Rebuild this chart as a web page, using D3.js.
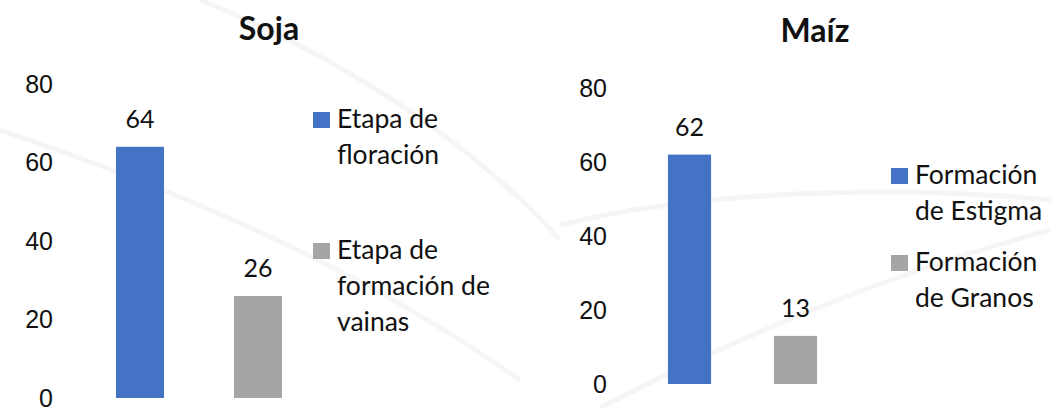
<!DOCTYPE html>
<html>
<head>
<meta charset="utf-8">
<script src="https://cdn.jsdelivr.net/npm/d3@7"></script>
<style>
  body { margin: 0; background: #fff; }
  svg { display: block; font-family: Lato, "Open Sans", sans-serif; }
  .axis text { font-size: 25px; fill: #111; }
  .axis path, .axis line { display: none; }
  .chart-title { font-size: 32px; font-weight: bold; fill: #111; }
  .bar-label { font-size: 25px; fill: #111; }
  .legend text { font-size: 26.5px; fill: #111; }
</style>
</head>
<body>
<svg id="chart"></svg>
<script>
// Soja
const sojaCategories = ['Etapa de floración', 'Etapa de formación de vainas'];
const sojaValues = [64, 26];
const sojaLegend = [['Etapa de', 'floración'], ['Etapa de', 'formación de', 'vainas']];

// Maíz
const maizCategories = ['Formación de Estigma', 'Formación de Granos'];
const maizValues = [62, 13];
const maizLegend = [['Formación', 'de Estigma'], ['Formación', 'de Granos']];

const yTicks = [0, 20, 40, 60, 80];
const colors = ['#4472C4', '#A5A5A5'];

class BarPanel {

  constructor(_config, _categories, _values, _legend) {
    this.config = {
      svg: _config.svg,
      title: _config.title,
      titleX: _config.titleX,
      titleY: _config.titleY,
      axisX: _config.axisX,
      yRange: _config.yRange,
      xRange: _config.xRange,
      legendX: _config.legendX,
      legendRows: _config.legendRows,
      lineHeight: _config.lineHeight || 36
    }
    this.categories = _categories;
    this.values = _values;
    this.legend = _legend;
    this.initVis();
  }

  initVis() {
    let vis = this;

    vis.yScale = d3.scaleLinear()
        .domain([0, 80])
        .range(vis.config.yRange);

    vis.xScale = d3.scaleBand()
        .domain(vis.categories)
        .range(vis.config.xRange)
        .paddingInner(0.593)
        .paddingOuter(0.2965);

    vis.color = d3.scaleOrdinal()
        .domain(vis.categories)
        .range(colors);

    vis.yAxis = d3.axisLeft(vis.yScale)
        .tickValues(yTicks)
        .tickSize(0)
        .tickPadding(0);

    vis.g = vis.config.svg.append('g');

    vis.g.append('g')
        .attr('class', 'axis y-axis')
        .attr('transform', `translate(${vis.config.axisX},0)`)
        .call(vis.yAxis)
        .call(g => g.selectAll('text').attr('font-family', null));

    vis.g.append('text')
        .attr('class', 'chart-title')
        .attr('x', vis.config.titleX)
        .attr('y', vis.config.titleY)
        .attr('text-anchor', 'middle')
        .text(vis.config.title);

    vis.renderVis();
  }

  renderVis() {
    let vis = this;
    const data = vis.categories.map((c, i) => ({ cat: c, value: vis.values[i], lines: vis.legend[i] }));

    vis.g.selectAll('.bar')
        .data(data)
        .join('rect')
        .attr('class', 'bar')
        .attr('x', d => vis.xScale(d.cat))
        .attr('width', vis.xScale.bandwidth())
        .attr('y', d => vis.yScale(d.value))
        .attr('height', d => vis.yScale(0) - vis.yScale(d.value))
        .attr('fill', d => vis.color(d.cat));

    vis.g.selectAll('.bar-label')
        .data(data)
        .join('text')
        .attr('class', 'bar-label')
        .attr('x', d => vis.xScale(d.cat) + vis.xScale.bandwidth() / 2)
        .attr('y', d => vis.yScale(d.value) - 19)
        .attr('text-anchor', 'middle')
        .text(d => d.value);

    // legend, one row per category (y = baseline of first line)
    const items = vis.g.selectAll('.legend')
        .data(data)
        .join('g')
        .attr('class', 'legend')
        .attr('transform', (d, i) => `translate(${vis.config.legendX},${vis.config.legendRows[i]})`);

    items.append('rect')
        .attr('x', 0)
        .attr('y', -16)
        .attr('width', 17)
        .attr('height', 16)
        .attr('fill', d => vis.color(d.cat));

    items.append('text')
        .selectAll('tspan')
        .data(d => d.lines)
        .join('tspan')
        .attr('x', 24)
        .attr('y', (d, i) => i * vis.config.lineHeight)
        .text(d => d);
  }
}

const svg = d3.select('#chart')
    .attr('width', 1051)
    .attr('height', 408);

// faint background swirls
const bg = svg.append('g')
    .attr('fill', 'none')
    .attr('stroke', '#f0f0f0')
    .attr('stroke-width', 5)
    .attr('opacity', 0.6);
bg.append('path').attr('d', 'M560,225 C700,190 900,185 1051,200');
bg.append('path').attr('d', 'M0,130 C150,180 350,260 520,380');
bg.append('path').attr('d', 'M600,408 C750,330 900,270 1051,230');
bg.append('path').attr('d', 'M200,0 C350,60 480,150 560,240');

new BarPanel({
  svg: svg,
  title: 'Soja',
  titleX: 269,
  titleY: 40,
  axisX: 53,
  yRange: [398, 84],
  xRange: [81, 317],
  legendX: 313,
  legendRows: [128, 259],
  lineHeight: 36
}, sojaCategories, sojaValues, sojaLegend);

new BarPanel({
  svg: svg,
  title: 'Maíz',
  titleX: 815,
  titleY: 42,
  axisX: 607,
  yRange: [384, 88],
  xRange: [636.5, 848.5],
  legendX: 891,
  legendRows: [184, 271],
  lineHeight: 36
}, maizCategories, maizValues, maizLegend);
</script>
</body>
</html>
